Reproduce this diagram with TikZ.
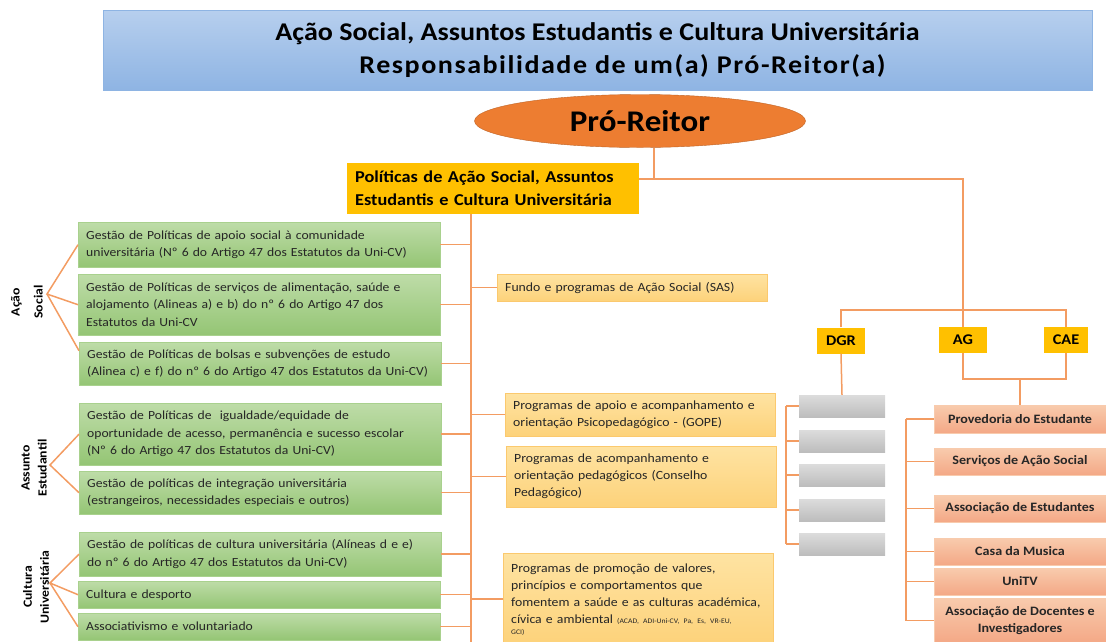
\documentclass[tikz,border=0pt]{standalone}
\usepackage{fontspec}
\setmainfont{Carlito}[FakeStretch=1.1]
\usetikzlibrary{shapes.geometric}
\definecolor{linec}{HTML}{F39C62}
\definecolor{bant}{HTML}{B7CFEE}
\definecolor{banb}{HTML}{8EB4E3}
\definecolor{orell}{HTML}{ED7D31}
\definecolor{gold}{HTML}{FFC000}
\definecolor{lyt}{HTML}{FEE3A2}
\definecolor{lyb}{HTML}{FDD27A}
\definecolor{lyd}{HTML}{FBC96E}
\definecolor{grt}{HTML}{BEDCA8}
\definecolor{grb}{HTML}{94C574}
\definecolor{grd}{HTML}{A9D18E}
\definecolor{pkt}{HTML}{F8CBAD}
\definecolor{pkb}{HTML}{F4A886}
\definecolor{gyt}{HTML}{DCDCDC}
\definecolor{gyb}{HTML}{BDBDBD}
\definecolor{txt}{HTML}{262626}
\begin{document}
\begin{tikzpicture}[x=1pt,y=-1pt,
  conn/.style={draw=linec,line width=1.5pt},
  gbox/.style={draw=grd,top color=grt,bottom color=grb,anchor=north west,minimum width=362pt,text width=346pt,inner xsep=8pt,inner ysep=0pt,align=left,text=txt,font=\fontsize{12.4}{17.5}\selectfont},
  ybox/.style={draw=lyd,top color=lyt,bottom color=lyb,anchor=north west,minimum width=269pt,text width=254pt,inner xsep=8pt,inner ysep=0pt,align=left,text=txt,font=\fontsize{12.5}{17}\selectfont},
  pbox/.style={draw=pkt,top color=pkt,bottom color=pkb,minimum width=172pt,inner sep=0pt,align=center,text=txt,font=\bfseries\fontsize{12.8}{17}\selectfont},
  kbox/.style={top color=gyt,bottom color=gyb,minimum width=86pt,minimum height=22pt,inner sep=0pt},
  unit/.style={fill=gold,minimum height=26pt,inner sep=0pt,font=\bfseries\fontsize{14.8}{16}\selectfont},
  side/.style={rotate=90,align=center,inner sep=0pt,font=\bfseries\fontsize{12.5}{17}\selectfont}]
\useasboundingbox (0,0) rectangle (1106,641);

\node[draw=banb,top color=bant,bottom color=banb,minimum width=989pt,minimum height=80pt,align=center,font=\bfseries\fontsize{25.5}{33}\selectfont] (ban) at (597.5,50)
  {Ação Social, Assuntos Estudantis e Cultura Universitária\\\hspace*{50pt}{\addfontfeature{LetterSpace=6}Responsabilidade de um(a) Pró-Reitor(a)}};
\node[ellipse,draw=orell!80!black,fill=orell,minimum width=331pt,minimum height=53pt,font=\bfseries\fontsize{30}{32}\selectfont] (pr) at (640,121) {Pró-Reitor};
\node[fill=gold,anchor=north west,minimum width=290pt,minimum height=51pt,text width=276pt,inner xsep=8pt,align=left,font=\bfseries\fontsize{16.6}{23}\selectfont] (pol) at (347,163)
  {Políticas de Ação Social, Assuntos\\Estudantis e Cultura Universitária};

\node[gbox,minimum height=45pt] (g1) at (78,222) {Gestão de Políticas de apoio social à comunidade\\universitária (Nº 6 do Artigo 47 dos Estatutos da Uni-CV)};
\node[gbox,minimum height=61pt] (g2) at (78,274) {Gestão de Políticas de serviços de alimentação, saúde e\\alojamento (Alineas a) e b) do nº 6 do Artigo 47 dos\\Estatutos da Uni-CV};
\node[gbox,minimum height=43pt] (g3) at (79,342) {Gestão de Políticas de bolsas e subvenções de estudo\\(Alinea c) e f) do nº 6 do Artigo 47 dos Estatutos da Uni-CV)};
\node[gbox,minimum height=62pt] (g4) at (79,403) {Gestão de Políticas de \ igualdade/equidade de\\oportunidade de acesso, permanência e sucesso escolar\\(Nº 6 do Artigo 47 dos Estatutos da Uni-CV)};
\node[gbox,minimum height=43pt] (g5) at (79,471) {Gestão de políticas de integração universitária\\(estrangeiros, necessidades especiais e outros)};
\node[gbox,minimum height=44pt] (g6) at (79,532) {Gestão de políticas de cultura universitária (Alíneas d e e)\\do nº 6 do Artigo 47 dos Estatutos da Uni-CV)};
\node[gbox,minimum height=27pt] (g7) at (78,581) {Cultura e desporto};
\node[gbox,minimum height=27pt] (g8) at (78,613) {Associativismo e voluntariado};

\node[side] (as) at (27,302) {Ação\\[6pt]Social};
\node[side] (ae) at (34,468) {Assunto\\Estudantil};
\node[side] (cu) at (36,587) {Cultura\\Universitária};
\coordinate (asp) at (47,294);
\coordinate (aep) at (50,465);
\coordinate (cup) at (50,583);

\node[ybox,minimum height=27pt] (f1) at (497,274) {Fundo e programas de Ação Social (SAS)};
\node[ybox,minimum height=43pt] (f2) at (505,393) {Programas de apoio e acompanhamento e\\orientação Psicopedagógico - (GOPE)};
\node[ybox,minimum height=61pt] (f3) at (506,446) {Programas de acompanhamento e\\orientação pedagógicos (Conselho\\Pedagógico)};
\node[ybox,minimum height=92pt] (f4) at (503,553) {Programas de promoção de valores,\\princípios e comportamentos que\\fomentem a saúde e as culturas académica,\\cívica e ambiental {\fontsize{7}{8}\selectfont (ACAD, ADI-Uni-CV, Pa, Es, VR-EU,}\\[-6pt]{\fontsize{7}{8}\selectfont GCI)}};

\node[unit,minimum width=48pt] (dgr) at (841,340.5) {DGR};
\node[unit,minimum width=48pt] (ag) at (963,340) {AG};
\node[unit,minimum width=44pt] (cae) at (1066,340) {CAE};

\foreach \i/\y in {1/406,2/441,3/475,4/510,5/544}
  \node[kbox] (k\i) at (842,\y) {};

\node[pbox,minimum height=28pt] (p1) at (1020,419) {Provedoria do Estudante};
\node[pbox,minimum height=27pt] (p2) at (1020,461.5) {Serviços de Ação Social};
\node[pbox,minimum height=27pt] (p3) at (1020,508.5) {Associação de Estudantes};
\node[pbox,minimum height=27pt] (p4) at (1020,551.5) {Casa da Musica};
\node[pbox,minimum height=27pt] (p5) at (1020,581.5) {UniTV};
\node[pbox,minimum height=45pt] (p6) at (1020,620.5) {Associação de Docentes e\\Investigadores};

\coordinate (jt) at (654,179);
\coordinate (jr) at (963,179);
\coordinate (hb) at (0,310);
\coordinate (hc) at (0,379);
\coordinate (sp) at (471,0);
\coordinate (spe) at (471,645);
\coordinate (kb) at (786,0);
\coordinate (pb) at (906,0);

\draw[conn] (pr.south -| jt) -- (jt);
\draw[conn] (pol.east |- jt) -- (jr) -- (ag.north);
\draw[conn] (dgr.north) -- (dgr.north |- hb) -- (cae.north |- hb) -- (cae.north);
\draw[conn] (ag.south) -- (ag.south |- hc) -- (cae.south |- hc) -- (cae.south);
\draw[conn] (p1.north |- hc) -- (p1.north);
\draw[conn] (dgr.south) -- (k1.north);
\draw[conn] (pol.south -| sp) -- (spe);
\foreach \n in {g1,g2,g3,g4,g5,g6,g7,g8}
  \draw[conn] (\n.east) -- (\n.east -| sp);
\foreach \n in {f1,f2,f3,f4}
  \draw[conn] (\n.west) -- (\n.west -| sp);
\draw[conn] (k1.west -| kb) -- (k5.west -| kb);
\foreach \i in {1,...,5}
  \draw[conn] (k\i.west) -- (k\i.west -| kb);
\draw[conn] (p1.west -| pb) -- (p6.west -| pb);
\foreach \i in {1,...,6}
  \draw[conn] (p\i.west) -- (p\i.west -| pb);
\draw[conn] (g1.west) -- (asp) -- (g2.west);
\draw[conn] (asp) -- ([yshift=13pt]g3.west);
\draw[conn] (g4.west) -- (aep) -- (g5.west);
\draw[conn] (g6.west) -- (cup) -- (g7.west);
\draw[conn] (cup) -- (g8.west);
\end{tikzpicture}
\end{document}
